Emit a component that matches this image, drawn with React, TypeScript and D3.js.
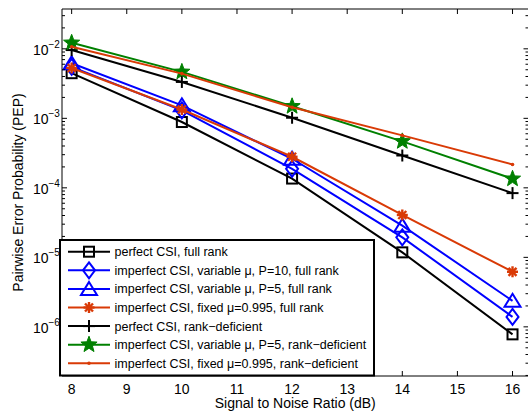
import React from "react";
import * as d3 from "d3";

// SNR points (dB)
const snr = [8, 10, 12, 14, 16];

// pairwise error probability, one array per curve
const pepPerfectFull = [4.46e-3, 8.85e-4, 1.36e-4, 1.18e-5, 7.8e-7];
const pepVarP10Full = [5.5e-3, 1.3e-3, 1.88e-4, 1.94e-5, 1.39e-6];
const pepVarP5Full = [6.2e-3, 1.54e-3, 2.62e-4, 2.86e-5, 2.37e-6];
const pepFixedFull = [5.3e-3, 1.34e-3, 2.8e-4, 4.07e-5, 6.2e-6];
const pepPerfectDef = [9.6e-3, 3.34e-3, 1.02e-3, 2.92e-4, 8.4e-5];
const pepVarP5Def = [1.22e-2, 4.66e-3, 1.49e-3, 4.66e-4, 1.35e-4];
const pepFixedDef = [1.07e-2, 4.4e-3, 1.44e-3, 5.69e-4, 2.17e-4];

const legendLabels = [
  "perfect CSI, full rank",
  "imperfect CSI, variable \u03bc, P=10, full rank",
  "imperfect CSI, variable \u03bc, P=5, full rank",
  "imperfect CSI, fixed \u03bc=0.995, full rank",
  "perfect CSI, rank\u2212deficient",
  "imperfect CSI, variable \u03bc, P=5, rank\u2212deficient",
  "imperfect CSI, fixed \u03bc=0.995, rank\u2212deficient",
];

const xTicks = [8, 9, 10, 11, 12, 13, 14, 15, 16];
const yDecades = [-6, -5, -4, -3, -2];

const BLACK = "#000000";
const BLUE = "#0000ff";
const RED = "#d93a06";
const GREEN = "#008000";

const series = [
  { values: pepPerfectFull, color: BLACK, marker: "square" },
  { values: pepVarP10Full, color: BLUE, marker: "diamond" },
  { values: pepVarP5Full, color: BLUE, marker: "triangle" },
  { values: pepFixedFull, color: RED, marker: "asterisk" },
  { values: pepPerfectDef, color: BLACK, marker: "plus" },
  { values: pepVarP5Def, color: GREEN, marker: "star" },
  { values: pepFixedDef, color: RED, marker: "dot" },
];

const W = 528;
const H = 415;
const FONT = "'Liberation Sans', Arial, Helvetica, sans-serif";

const x = d3.scaleLinear().domain([7.825, 16.29]).range([62, 528.5]);
const y = d3
  .scaleLog()
  .domain([Math.pow(10, -1.427), Math.pow(10, -6.707)])
  .range([9, 376]);

function starPath(r: number) {
  const pts: [number, number][] = [];
  for (let i = 0; i < 10; i++) {
    const rr = i % 2 === 0 ? r : r * 0.42;
    const a = -Math.PI / 2 + (i * Math.PI) / 5;
    pts.push([rr * Math.cos(a), rr * Math.sin(a)]);
  }
  return "M" + pts.map((p) => p.join(",")).join("L") + "Z";
}

function Marker({ kind, cx, cy, color }: { kind: string; cx: number; cy: number; color: string }) {
  const t = `translate(${cx},${cy})`;
  switch (kind) {
    case "square":
      return <rect x={cx - 5} y={cy - 5} width={10} height={10} fill="none" stroke={color} strokeWidth={2} />;
    case "diamond":
      return <path transform={t} d="M0,-8L6,0L0,8L-6,0Z" fill="none" stroke={color} strokeWidth={2} />;
    case "triangle":
      return <path transform={t} d="M0,-7L8,6L-8,6Z" fill="none" stroke={color} strokeWidth={2} />;
    case "asterisk":
      return (
        <g transform={t} stroke={color} strokeWidth={2.4}>
          <line x1={-5.5} y1={0} x2={5.5} y2={0} />
          <line x1={0} y1={-5.5} x2={0} y2={5.5} />
          <line x1={-4} y1={-4} x2={4} y2={4} />
          <line x1={-4} y1={4} x2={4} y2={-4} />
          <circle r={2.5} fill={color} stroke="none" />
        </g>
      );
    case "plus":
      return (
        <g transform={t} stroke={color} strokeWidth={2}>
          <line x1={-6} y1={0} x2={6} y2={0} />
          <line x1={0} y1={-6} x2={0} y2={6} />
        </g>
      );
    case "star":
      return <path transform={t} d={starPath(8.5)} fill={color} stroke={color} strokeWidth={1} strokeLinejoin="miter" />;
    case "dot":
      return <circle cx={cx} cy={cy} r={1.8} fill={color} />;
    default:
      return null;
  }
}

export default function App() {
  const line = d3
    .line<number>()
    .x((_, i) => x(snr[i]))
    .y((d) => y(d));

  const [x0, x1] = x.range();
  const [yTop, yBot] = y.range();

  const minor: number[] = [];
  for (let e = -7; e <= -1; e++) {
    for (let m = 2; m <= 9; m++) {
      const v = m * Math.pow(10, e);
      const py = y(v);
      if (py > yTop && py < yBot) minor.push(v);
    }
  }

  const legX = 60;
  const legY = 240;
  const legW = 314;
  const legH = 135.5;
  const rowY0 = 251.7;
  const rowStep = 18.6;

  return (
    <svg width={W} height={H} style={{ position: "absolute", left: 0, top: 0, background: "#fff" }} fontFamily={FONT}>
      <rect x={0} y={0} width={W} height={H} fill="#fff" />

      {/* curves */}
      {series.map((s, i) => (
        <g key={i}>
          <path d={line(s.values) || ""} fill="none" stroke={s.color} strokeWidth={2} />
          {s.values.map((v, j) => (
            <Marker key={j} kind={s.marker} cx={x(snr[j])} cy={y(v)} color={s.color} />
          ))}
        </g>
      ))}

      {/* axes box */}
      <g stroke="#000" strokeWidth={1} fill="none">
        <line x1={x0} y1={yTop} x2={x1} y2={yTop} />
        <line x1={x0} y1={yBot} x2={x1} y2={yBot} />
        <line x1={x0} y1={yTop} x2={x0} y2={yBot} />
        <line x1={x1} y1={yTop} x2={x1} y2={yBot} />
        {xTicks.map((t) => (
          <g key={t}>
            <line x1={x(t)} y1={yBot} x2={x(t)} y2={yBot - 5} />
            <line x1={x(t)} y1={yTop} x2={x(t)} y2={yTop + 5} />
          </g>
        ))}
        {yDecades.map((e) => {
          const py = y(Math.pow(10, e));
          return (
            <g key={e}>
              <line x1={x0} y1={py} x2={x0 + 5} y2={py} />
              <line x1={x1} y1={py} x2={x1 - 5} y2={py} />
            </g>
          );
        })}
        {minor.map((v, i) => (
          <g key={i}>
            <line x1={x0} y1={y(v)} x2={x0 + 3} y2={y(v)} />
            <line x1={x1} y1={y(v)} x2={x1 - 3} y2={y(v)} />
          </g>
        ))}
      </g>

      {/* tick labels */}
      {xTicks.map((t) => (
        <text key={t} x={x(t)} y={393.5} fontSize={14} textAnchor="middle" fill="#000">
          {t}
        </text>
      ))}
      {yDecades.map((e) => {
        const py = y(Math.pow(10, e));
        return (
          <g key={e}>
            <text x={48.5} y={py + 6} fontSize={14} textAnchor="end" fill="#000">
              10
            </text>
            <text x={48.5} y={py - 1} fontSize={10} textAnchor="start" fill="#000">
              {"\u2212" + Math.abs(e)}
            </text>
          </g>
        );
      })}

      {/* axis labels */}
      <text x={(x0 + x1) / 2} y={408} fontSize={14} textAnchor="middle" fill="#000">
        Signal to Noise Ratio (dB)
      </text>
      <text
        transform={`translate(23,${(yTop + yBot) / 2}) rotate(-90)`}
        fontSize={14}
        textAnchor="middle"
        fill="#000"
      >
        Pairwise Error Probability (PEP)
      </text>

      {/* legend */}
      <rect x={legX} y={legY} width={legW} height={legH} fill="#fff" stroke="#000" strokeWidth={2} />
      {series.map((s, i) => {
        const ry = rowY0 + i * rowStep;
        return (
          <g key={i}>
            <line x1={68} y1={ry} x2={110} y2={ry} stroke={s.color} strokeWidth={2} />
            <Marker kind={s.marker} cx={89} cy={ry} color={s.color} />
            <text x={114.5} y={ry + 4.5} fontSize={12.5} fill="#000">
              {legendLabels[i]}
            </text>
          </g>
        );
      })}
    </svg>
  );
}
